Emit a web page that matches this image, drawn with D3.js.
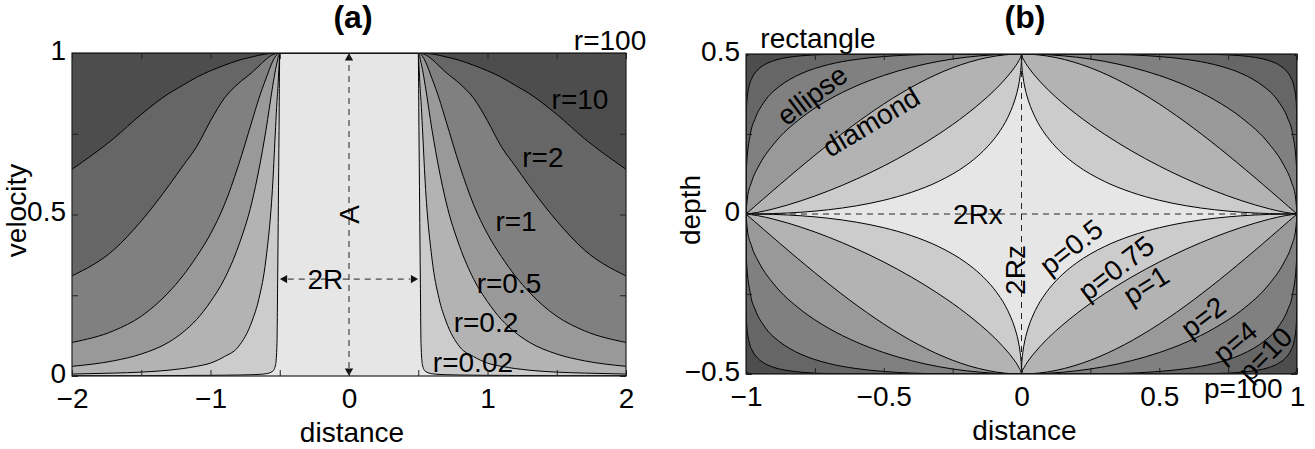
<!DOCTYPE html>
<html>
<head>
<meta charset="utf-8">
<script src="https://cdn.jsdelivr.net/npm/d3@7/dist/d3.min.js"></script>
<style>
  body { margin: 0; background: #fff; }
  text { font-family: "Liberation Sans", Arial, sans-serif; fill: #000; }
</style>
</head>
<body>
<svg width="1315" height="449"></svg>
<script>
// ---- panel (a): velocity vs distance, right half (mirrored for left) ----
const plugHalf = 0.5;
const distFromEdge = [0, 0.005, 0.01, 0.015, 0.02, 0.03, 0.05, 0.1, 0.15, 0.2, 0.3, 0.4, 0.5, 0.6, 0.7, 0.8, 1.0, 1.2, 1.5];
const rLabels = ["r=100", "r=10", "r=2", "r=1", "r=0.5", "r=0.2", "r=0.02"];
const vel_r100 = [1, 1, 1, 1, 1, 1, 1, 1, 1, 1, 1, 1, 1, 1, 1, 1, 1, 1, 1];
const vel_r10  = [1, 1, 1, 1, 1, 1, 0.999, 0.997, 0.993, 0.988, 0.977, 0.962, 0.945, 0.925, 0.9, 0.875, 0.81, 0.735, 0.64];
const vel_r2   = [1, 1, 1, 1, 0.999, 0.998, 0.995, 0.98, 0.96, 0.94, 0.905, 0.86, 0.79, 0.71, 0.65, 0.59, 0.48, 0.39, 0.31];
const vel_r1   = [1, 1, 0.999, 0.998, 0.995, 0.99, 0.975, 0.92, 0.86, 0.79, 0.65, 0.53, 0.44, 0.37, 0.31, 0.26, 0.185, 0.14, 0.104];
const vel_r05  = [1, 0.995, 0.99, 0.98, 0.97, 0.95, 0.9, 0.76, 0.64, 0.54, 0.4, 0.3, 0.23, 0.175, 0.135, 0.105, 0.068, 0.047, 0.03];
const vel_r02  = [1, 0.96, 0.92, 0.88, 0.85, 0.77, 0.6, 0.36, 0.24, 0.17, 0.09, 0.06, 0.04, 0.03, 0.023, 0.018, 0.012, 0.009, 0.006];
const vel_r002 = [1, 0.76, 0.53, 0.3, 0.1, 0.035, 0.015, 0.007, 0.005, 0.004, 0.003, 0.0025, 0.002, 0.002, 0.0015, 0.0015, 0.001, 0.001, 0.001];
const velCurves = [vel_r100, vel_r10, vel_r2, vel_r1, vel_r05, vel_r02, vel_r002];
const grays = ["#4d4d4d", "#666666", "#808080", "#999999", "#b3b3b3", "#cccccc", "#e6e6e6"];

// label anchors [x, v]
const rLabelPos = [[1.885, 1.04], [1.668, 0.858], [1.40, 0.678], [1.206, 0.48], [1.155, 0.288], [0.989, 0.167], [0.895, 0.043]];

// ---- panel (b): superellipse outlines, first quadrant [x/Rx, z/Rz] ----
const Rx = 1, Rz = 0.5;
const pLabels = ["p=100", "p=10", "p=4", "p=2", "p=1", "p=0.75", "p=0.5"];
const shape_p100 = [[0, 1], [0.95, 0.9999], [0.98, 0.9986], [0.99, 0.9955], [0.9931, 0.9931], [0.9955, 0.99], [0.9986, 0.98], [0.9999, 0.95], [1, 0]];
const shape_p10 = [[0, 1], [0.5, 0.9999], [0.7, 0.9971], [0.8, 0.9887], [0.85, 0.9783], [0.9, 0.9581], [0.933, 0.933], [0.9581, 0.9], [0.9783, 0.85], [0.9887, 0.8], [0.9971, 0.7], [0.9999, 0.5], [1, 0]];
const shape_p4 = [[0, 1], [0.3, 0.998], [0.5, 0.984], [0.6, 0.966], [0.7, 0.934], [0.8, 0.877], [0.841, 0.841], [0.877, 0.8], [0.934, 0.7], [0.966, 0.6], [0.984, 0.5], [0.998, 0.3], [0.99998, 0.1], [1, 0]];
const shape_p2 = [[0, 1], [0.2, 0.98], [0.4, 0.9165], [0.5, 0.866], [0.6, 0.8], [0.7, 0.714], [0.8, 0.6], [0.9, 0.436], [0.95, 0.312], [0.98, 0.199], [0.995, 0.1], [1, 0]];
const shape_p1 = [[0, 1], [1, 0]];
const shape_p075 = [[0, 1], [0.002, 0.987], [0.01, 0.958], [0.0322, 0.9], [0.05, 0.862], [0.0827, 0.8], [0.1, 0.77], [0.1448, 0.7], [0.2, 0.6226], [0.3, 0.5], [0.4, 0.3937], [0.5, 0.3], [0.6, 0.2174], [0.7, 0.1448], [0.8, 0.0827], [0.9, 0.0322], [0.958, 0.01], [1, 0]];
const shape_p05 = [[0, 1], [0.0005, 0.9558], [0.002, 0.913], [0.005, 0.8636], [0.0111, 0.8], [0.02, 0.737], [0.0267, 0.7], [0.05, 0.603], [0.0858, 0.5], [0.1, 0.4676], [0.15, 0.3754], [0.2, 0.3056], [0.3, 0.2046], [0.4, 0.1351], [0.5, 0.0858], [0.6, 0.0508], [0.7, 0.0267], [0.8, 0.0111], [0.9, 0.0026], [1, 0]];
const shapes = [shape_p100, shape_p10, shape_p4, shape_p2, shape_p1, shape_p075, shape_p05];

// label anchors [x, z, angle]
const pLabelPos = [[0.805, -0.545, 0], [0.884, -0.4375, -45], [0.775, -0.40, -40], [0.659, -0.322, -37], [0.452, -0.222, -32], [0.343, -0.169, -37], [0.18, -0.103, -38]];
const shapeNames = [["rectangle", -0.739, 0.55, 0], ["ellipse", -0.76, 0.372, -37], ["diamond", -0.546, 0.2875, -31]];

const svg = d3.select("svg");
const fmt = d3.format("");
const FS = "28px";

function frameAxes(g, x, y, xticks, yticks, xlab, ylab, xLabelled, yLabelled) {
  const [x0, x1] = x.range(), [y0, y1] = y.range();
  g.append("g").attr("transform", `translate(0,${y0})`)
    .call(d3.axisBottom(x).tickValues(xticks).tickSizeInner(-6).tickSizeOuter(0).tickPadding(12)
      .tickFormat(d => xLabelled(d) ? fmt(d) : ""));
  g.append("g").attr("transform", `translate(0,${y1})`)
    .call(d3.axisTop(x).tickValues(xticks).tickSizeInner(-6).tickSizeOuter(0).tickFormat(""));
  g.append("g").attr("class", "yleft").attr("transform", `translate(${x0},0)`)
    .call(d3.axisLeft(y).tickValues(yticks).tickSizeInner(-6).tickSizeOuter(0).tickPadding(6)
      .tickFormat(d => yLabelled(d) ? fmt(d) : ""));
  g.append("g").attr("transform", `translate(${x1},0)`)
    .call(d3.axisRight(y).tickValues(yticks).tickSizeInner(-6).tickSizeOuter(0).tickFormat(""));
  g.selectAll(".domain").remove();
  g.selectAll(".tick line").attr("stroke", "#222");
  g.selectAll(".tick text").style("font-size", FS).attr("fill", "#000");
  g.selectAll(".yleft .tick text").attr("dy", "0.22em");
  g.append("rect").attr("x", x0).attr("y", y1).attr("width", x1 - x0).attr("height", y0 - y1)
    .attr("fill", "none").attr("stroke", "#222").attr("stroke-width", 1.2);
  g.append("text").attr("x", (x0 + x1) / 2 + 3).attr("y", y0 + 66).attr("text-anchor", "middle")
    .style("font-size", FS).text(xlab);
  g.append("text").attr("transform", `translate(${x0 - 46},${(y0 + y1) / 2 - 4}) rotate(-90)`)
    .attr("text-anchor", "middle").style("font-size", FS).text(ylab);
}

// ================= panel (a) =================
{
  const x = d3.scaleLinear().domain([-2, 2]).range([72, 626]);
  const y = d3.scaleLinear().domain([0, 1]).range([376, 53]);
  const g = svg.append("g");
  g.append("clipPath").attr("id", "clipA").append("rect")
    .attr("x", 72).attr("y", 53).attr("width", 554).attr("height", 323);

  const toPts = vals => {
    const right = distFromEdge.map((d, i) => [plugHalf + d, vals[i]]);
    const left = right.map(p => [-p[0], p[1]]).reverse();
    return left.concat(right);
  };
  const area = d3.area().x(d => x(d[0])).y0(y(0)).y1(d => y(d[1])).curve(d3.curveMonotoneX);
  const line = d3.line().x(d => x(d[0])).y(d => y(d[1])).curve(d3.curveMonotoneX);

  const plot = g.append("g").attr("clip-path", "url(#clipA)");
  plot.selectAll("path.fill").data(velCurves).enter().append("path")
    .attr("class", "fill").attr("d", v => area(toPts(v))).attr("fill", (v, i) => grays[i]);
  plot.selectAll("path.edge").data(velCurves).enter().append("path")
    .attr("class", "edge").attr("d", v => line(toPts(v)))
    .attr("fill", "none").attr("stroke", "#000").attr("stroke-width", 1);

  // A and 2R annotations
  const dash = "6,5";
  plot.append("line").attr("x1", x(0)).attr("x2", x(0)).attr("y1", y(0) - 8).attr("y2", y(1) + 8)
    .attr("stroke", "#222").attr("stroke-dasharray", dash);
  plot.append("line").attr("x1", x(-0.5) + 8).attr("x2", x(0.5) - 8).attr("y1", y(0.3)).attr("y2", y(0.3))
    .attr("stroke", "#222").attr("stroke-dasharray", dash);
  const tri = d3.symbol().type(d3.symbolTriangle).size(30);
  [[x(0), y(1) + 5, 0], [x(0), y(0) - 5, 180], [x(-0.5) + 5, y(0.3), -90], [x(0.5) - 5, y(0.3), 90]]
    .forEach(([px, py, a]) => plot.append("path").attr("d", tri())
      .attr("transform", `translate(${px},${py}) rotate(${a})`).attr("fill", "#111"));
  g.append("text").attr("transform", `translate(${x(0)},${y(0.5)}) rotate(-90)`)
    .attr("dy", "0.35em").attr("text-anchor", "middle").style("font-size", FS).text("A");
  g.append("text").attr("x", x(-0.17)).attr("y", y(0.3)).attr("dy", "0.35em")
    .attr("text-anchor", "middle").style("font-size", FS).text("2R");

  g.selectAll("text.rlab").data(rLabels).enter().append("text").attr("class", "rlab")
    .attr("x", (d, i) => x(rLabelPos[i][0])).attr("y", (d, i) => y(rLabelPos[i][1]))
    .attr("dy", "0.35em").attr("text-anchor", "middle").style("font-size", FS).text(d => d);

  frameAxes(g, x, y, d3.range(-2, 2.01, 0.5), [0, 0.25, 0.5, 0.75, 1], "distance", "velocity",
    d => Number.isInteger(d), d => d === 0 || d === 0.5 || d === 1);

  g.append("text").attr("x", 353).attr("y", 28).attr("text-anchor", "middle")
    .style("font-size", "32px").style("font-weight", "bold").text("(a)");
}

// ================= panel (b) =================
{
  const x = d3.scaleLinear().domain([-1, 1]).range([746, 1297]);
  const y = d3.scaleLinear().domain([-0.5, 0.5]).range([374, 54]);
  const g = svg.append("g");
  g.append("clipPath").attr("id", "clipB").append("rect")
    .attr("x", 746).attr("y", 54).attr("width", 551).attr("height", 320);

  const toPts = s => {
    const right = s.map(p => [p[0] * Rx, p[1] * Rz]);
    const left = right.slice(1).map(p => [-p[0], p[1]]).reverse();
    return left.concat(right);
  };
  const area = d3.area().x(d => x(d[0])).y0(d => y(-d[1])).y1(d => y(d[1])).curve(d3.curveMonotoneX);
  const upper = d3.line().x(d => x(d[0])).y(d => y(d[1])).curve(d3.curveMonotoneX);
  const lower = d3.line().x(d => x(d[0])).y(d => y(-d[1])).curve(d3.curveMonotoneX);

  const plot = g.append("g").attr("clip-path", "url(#clipB)");
  plot.append("rect").attr("x", 746).attr("y", 54).attr("width", 551).attr("height", 320).attr("fill", "#404040");
  plot.selectAll("path.fill").data(shapes).enter().append("path")
    .attr("class", "fill").attr("d", s => area(toPts(s))).attr("fill", (s, i) => grays[i]);
  shapes.forEach(s => {
    [upper, lower].forEach(gen => plot.append("path").attr("d", gen(toPts(s)))
      .attr("fill", "none").attr("stroke", "#000").attr("stroke-width", 1));
  });

  const dash = "6,5";
  plot.append("line").attr("x1", x(-1)).attr("x2", x(1)).attr("y1", y(0)).attr("y2", y(0))
    .attr("stroke", "#222").attr("stroke-dasharray", dash);
  plot.append("line").attr("x1", x(0)).attr("x2", x(0)).attr("y1", y(-0.5)).attr("y2", y(0.5))
    .attr("stroke", "#222").attr("stroke-dasharray", dash);

  g.append("text").attr("x", x(-0.158)).attr("y", y(0)).attr("dy", "0.35em").attr("text-anchor", "middle")
    .style("font-size", FS).text("2Rx");
  g.append("text").attr("transform", `translate(${x(-0.022)},${y(-0.175)}) rotate(-90)`)
    .attr("dy", "0.35em").attr("text-anchor", "middle").style("font-size", FS).text("2Rz");

  g.selectAll("text.plab").data(pLabels).enter().append("text").attr("class", "plab")
    .attr("transform", (d, i) => `translate(${x(pLabelPos[i][0])},${y(pLabelPos[i][1])}) rotate(${pLabelPos[i][2]})`)
    .attr("dy", "0.35em").attr("text-anchor", "middle").style("font-size", FS).text(d => d);
  g.selectAll("text.slab").data(shapeNames).enter().append("text").attr("class", "slab")
    .attr("transform", d => `translate(${x(d[1])},${y(d[2])}) rotate(${d[3]})`)
    .attr("dy", "0.35em").attr("text-anchor", "middle").style("font-size", FS).text(d => d[0]);

  frameAxes(g, x, y, d3.range(-1, 1.01, 0.25), [-0.5, -0.25, 0, 0.25, 0.5], "distance", "depth",
    d => Math.abs(d * 2 - Math.round(d * 2)) < 1e-9, d => d !== 0.25 && d !== -0.25);

  g.append("text").attr("x", 1025).attr("y", 28).attr("text-anchor", "middle")
    .style("font-size", "32px").style("font-weight", "bold").text("(b)");
}
</script>
</body>
</html>
